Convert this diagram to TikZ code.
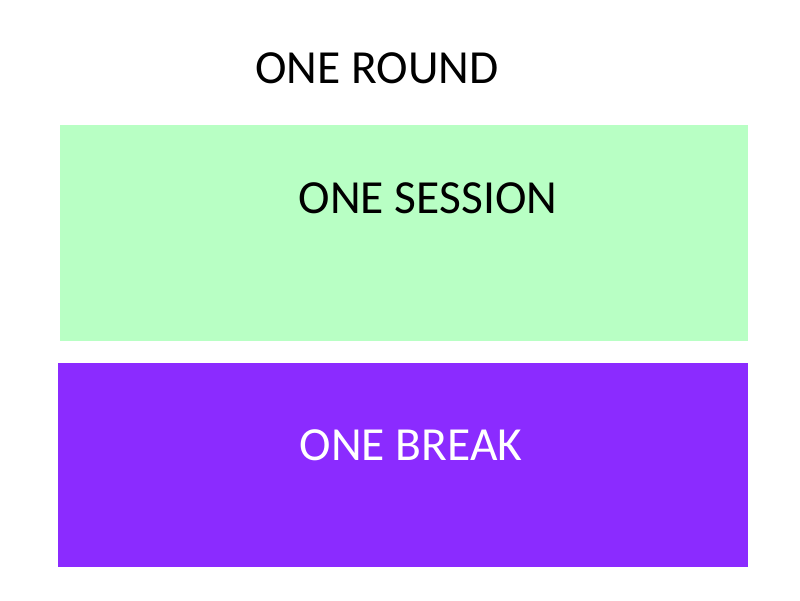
\documentclass[tikz,border=0pt]{standalone}
\usepackage{fontspec}
\setmainfont{Carlito}
\definecolor{sessiongreen}{HTML}{B8FFC4}
\definecolor{breakpurple}{HTML}{8B2BFF}
\begin{document}
\begin{tikzpicture}[x=1pt,y=-1pt,
  block/.style={draw=none,inner sep=0pt,outer sep=0pt,anchor=north west},
  label/.style={inner sep=0pt,anchor=base,font=\fontsize{47.5}{50}\selectfont}]
\useasboundingbox (0,0) rectangle (800,600);
\node[block,fill=sessiongreen,minimum width=688pt,minimum height=216pt] (session) at (60,125) {};
\node[block,fill=breakpurple,minimum width=690pt,minimum height=204pt] (break) at (58,363) {};
\node[label] (round) at (377,83) {ONE ROUND};
\node[label] (sessiontext) at (428,213) {ONE SESSION};
\node[label,text=white] (breaktext) at (411,460) {ONE BREAK};
\end{tikzpicture}
\end{document}
